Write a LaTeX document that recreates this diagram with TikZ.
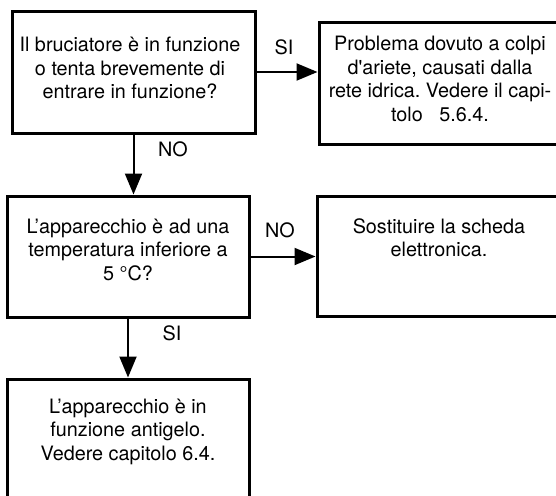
\documentclass[tikz,border=0pt]{standalone}
\usepackage{fontspec}
\setmainfont{TeX Gyre Heros}
\usetikzlibrary{arrows.meta,calc}
\tikzset{
  box/.style={draw, line width=3pt, inner sep=0pt},
  txt/.style={inner sep=0pt, anchor=base, font=\fontsize{19.8}{23.5}\selectfont},
  lbl/.style={inner sep=0pt, font=\fontsize{19.8}{23.5}\selectfont},
  conn/.style={line width=2pt, -{Triangle[length=21pt,width=17pt]}},
}
\newcommand{\bx}[2]{\parbox[t]{#1pt}{\centering\frenchspacing #2}}
\begin{document}
\begin{tikzpicture}[x=1pt,y=-1pt]
\useasboundingbox (0,0) rectangle (556,495);
\clip (0,0) rectangle (556,495);
% boxes
\node[box, minimum width=243pt, minimum height=121pt] (b1) at (133.5,72.5) {};
\node[box, minimum width=246pt, minimum height=121pt] (b2) at (442,83.5) {};
\node[box, minimum width=242pt, minimum height=121pt] (b3) at (128,256.5) {};
\node[box, minimum width=246pt, minimum height=120pt] (b4) at (440,256) {};
\node[box, minimum width=242pt, minimum height=121pt] (b5) at (128,439.5) {};
% texts
\node[txt] (t1) at (130,52) {\bx{240}{Il bruciatore è in funzione\\o tenta brevemente di\\entrare in funzione?}};
\node[txt] (t2) at (440,51) {\bx{240}{Problema dovuto a colpi\\d\textquotesingle ariete, causati dalla\\rete idrica. Vedere il capi-\\tolo\ \ \ 5.6.4.}};
\node[txt] (t3) at (128,233) {\bx{240}{L’apparecchio è ad una\\temperatura inferiore a\\5 °C?}};
\node[txt] (t4) at (439,233) {\bx{240}{Sostituire la scheda\\elettronica.}};
\node[txt] (t5) at (128,413) {\bx{240}{L’apparecchio è in\\funzione antigelo.\\Vedere capitolo 6.4.}};
% connectors
\draw[conn] (b1.east |- 0,72) -- (b2.west |- 0,72);
\draw[conn] (b1.south) -- (b1.south |- b3.north);
\draw[conn] (b3.east) -- (b3.east -| b4.west);
\draw[conn] (b3.south) -- (b5.north);
% labels
\node[lbl] (l1) at (284,47) {SI};
\node[lbl] (l2) at (173,149) {NO};
\node[lbl] (l3) at (280,230) {NO};
\node[lbl] (l4) at (172,333) {SI};
\end{tikzpicture}
\end{document}
